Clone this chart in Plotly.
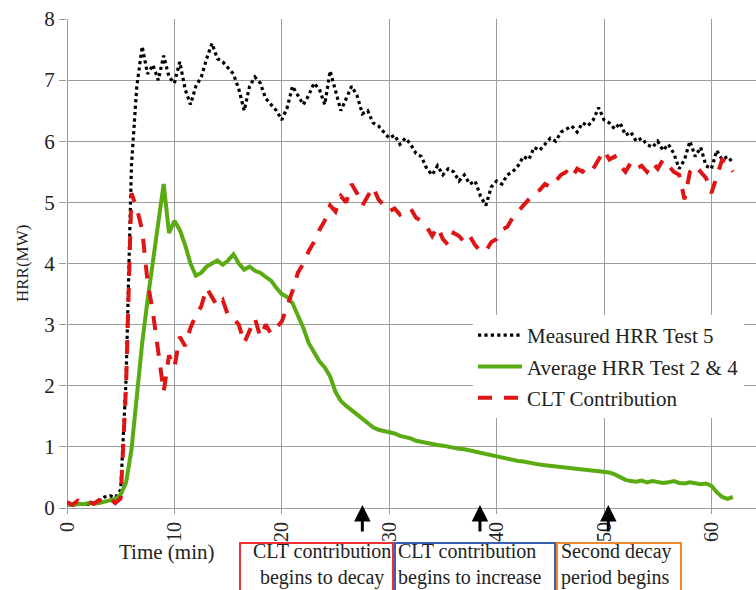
import plotly.graph_objects as go

time_min = [i * 0.5 for i in range(125)]

measured_hrr_test5 = [
    0.05, 0.06, 0.05, 0.07, 0.06, 0.08, 0.12, 0.18, 0.20, 0.17,
    0.30, 2.10, 5.60, 6.90, 7.55, 7.10, 7.25, 7.00, 7.40, 7.05,
    6.95, 7.30, 6.85, 6.60, 6.90, 7.05, 7.35, 7.60, 7.35, 7.30,
    7.20, 7.10, 6.85, 6.50, 6.90, 7.05, 6.95, 6.70, 6.60, 6.50,
    6.35, 6.55, 6.90, 6.75, 6.60, 6.75, 6.95, 6.85, 6.60, 7.15,
    6.80, 6.50, 6.70, 6.90, 6.75, 6.45, 6.50, 6.30, 6.25, 6.15,
    6.05, 6.10, 5.95, 6.05, 5.95, 5.80, 5.75, 5.55, 5.45, 5.60,
    5.45, 5.55, 5.50, 5.35, 5.45, 5.30, 5.35, 5.10, 4.95, 5.25,
    5.35, 5.30, 5.45, 5.50, 5.60, 5.75, 5.70, 5.90, 5.85, 5.95,
    6.05, 6.00, 6.15, 6.20, 6.25, 6.15, 6.30, 6.25, 6.35, 6.55,
    6.35, 6.30, 6.20, 6.30, 6.10, 6.15, 6.00, 6.05, 5.95, 5.90,
    6.00, 5.85, 5.95, 5.80, 5.55, 5.70, 6.00, 5.75, 5.90, 5.60,
    5.55, 5.85, 5.70, 5.75, 5.65,
]

average_hrr_test2_4 = [
    0.06, 0.05, 0.07, 0.06, 0.08, 0.07, 0.08, 0.10, 0.12, 0.15,
    0.22, 0.42, 0.95, 1.90, 2.70, 3.40, 4.00, 4.60, 5.30, 4.50,
    4.70, 4.55, 4.30, 4.00, 3.80, 3.85, 3.95, 4.00, 4.05, 3.98,
    4.05, 4.15, 4.00, 3.90, 3.95, 3.88, 3.85, 3.78, 3.72, 3.60,
    3.50, 3.45, 3.35, 3.15, 2.95, 2.70, 2.55, 2.40, 2.30, 2.15,
    1.90, 1.75, 1.67, 1.60, 1.53, 1.47, 1.38, 1.32, 1.28, 1.26,
    1.24, 1.22, 1.18, 1.16, 1.14, 1.10, 1.08, 1.06, 1.04, 1.03,
    1.02, 1.00, 0.98, 0.97, 0.96, 0.94, 0.92, 0.90, 0.88, 0.86,
    0.84, 0.82, 0.80, 0.79, 0.77, 0.76, 0.74, 0.72, 0.71, 0.70,
    0.69, 0.68, 0.67, 0.66, 0.65, 0.64, 0.63, 0.62, 0.61, 0.60,
    0.59, 0.58, 0.55, 0.50, 0.46, 0.44, 0.43, 0.45, 0.42, 0.44,
    0.43, 0.41, 0.42, 0.44, 0.41, 0.40, 0.42, 0.40, 0.39, 0.40,
    0.36, 0.26, 0.18, 0.15, 0.18,
]

clt_contribution = [
    0.10, 0.05, 0.12, 0.06, 0.10, 0.07, 0.13, 0.10, 0.15, 0.08,
    0.16, 2.00, 5.15, 4.90, 4.55, 3.70, 3.20, 2.50, 1.90, 2.50,
    2.30, 2.80, 2.65, 2.95, 3.15, 3.30, 3.60, 3.45, 3.30, 3.40,
    3.15, 3.10, 3.00, 2.70, 2.90, 3.10, 2.80, 3.00, 2.85, 2.95,
    3.05, 3.30, 3.55, 3.85, 4.00, 4.20, 4.35, 4.55, 4.70, 4.95,
    4.85, 5.10, 5.00, 5.30, 5.15, 4.95, 5.10, 5.25, 5.05, 4.95,
    4.85, 4.90, 4.80, 4.85, 4.90, 4.75, 4.70, 4.60, 4.45, 4.60,
    4.40, 4.30, 4.50, 4.45, 4.35, 4.45, 4.30, 4.20, 4.20, 4.35,
    4.40, 4.55, 4.60, 4.75, 4.85, 4.95, 5.05, 5.15, 5.20, 5.30,
    5.25, 5.35, 5.45, 5.50, 5.40, 5.55, 5.50, 5.60, 5.55, 5.70,
    5.85, 5.70, 5.75, 5.60, 5.50, 5.65, 5.55, 5.60, 5.50, 5.65,
    5.55, 5.70, 5.60, 5.50, 5.45, 5.05, 5.50, 5.60, 5.50, 5.40,
    5.15, 5.45, 5.70, 5.65, 5.50,
]

series_names = ["Measured HRR Test 5", "Average HRR Test 2 & 4", "CLT Contribution"]
x_ticks = [0, 10, 20, 30, 40, 50, 60]
y_ticks = [0, 1, 2, 3, 4, 5, 6, 7, 8]
arrow_times = [27.5, 38.45, 50.4]
box_texts = [
    "CLT contribution<br>begins to decay",
    "CLT contribution<br>begins to increase",
    "Second decay<br>period begins",
]
box_colors = ["#ee3030", "#3a5fb0", "#f08a30"]

W, H = 756, 590
L, R_, T, B = 67, 0, 19, 82
PW, PH = W - L - R_, H - T - B
FONT = "Liberation Serif, Times New Roman, serif"


def px_x(p):
    return (p - L) / PW


def px_y(p):
    return (H - B - p) / PH


fig = go.Figure()
fig.add_trace(go.Scatter(
    x=time_min, y=measured_hrr_test5, name=series_names[0], mode="lines",
    line=dict(color="#000000", width=3.2, dash="dot"), legendgroup="a",
))
fig.add_trace(go.Scatter(
    x=time_min, y=average_hrr_test2_4, name=series_names[1], mode="lines",
    line=dict(color="#5aab12", width=4), legendgroup="b",
))
fig.add_trace(go.Scatter(
    x=time_min, y=clt_contribution, name=series_names[2], mode="lines",
    line=dict(color="#dd1515", width=4, dash="14px,12px"), legendgroup="c",
))

grid = "#9c9c9c"
fig.update_xaxes(
    range=[0, PW / 10.74], tickvals=x_ticks, tickangle=-90,
    showgrid=True, gridcolor=grid, gridwidth=1.2,
    zeroline=True, zerolinecolor=grid, zerolinewidth=1.2,
    ticks="outside", ticklen=5, tickcolor=grid,
    tickfont=dict(family=FONT, size=20, color="#222"),
    showline=False,
)
fig.update_yaxes(
    range=[0, 8], tickvals=y_ticks,
    showgrid=True, gridcolor=grid, gridwidth=1.2,
    zeroline=True, zerolinecolor=grid, zerolinewidth=1.2,
    ticks="outside", ticklen=7, tickcolor=grid,
    tickfont=dict(family=FONT, size=21, color="#222"),
    showline=False,
)

annotations = [
    dict(text="Time (min)", xref="paper", yref="paper", x=px_x(166), y=px_y(552),
         xanchor="center", yanchor="middle",
         showarrow=False, font=dict(family=FONT, size=21, color="#222")),
    dict(text="HRR(MW)", xref="paper", yref="paper", x=px_x(22), y=px_y(264),
         xanchor="center", yanchor="middle",
         showarrow=False, textangle=-90, font=dict(family=FONT, size=17, color="#222")),
]
for t in arrow_times:
    annotations.append(dict(
        text="", x=t, y=px_y(505), xref="x", yref="paper",
        showarrow=True, ax=0, ay=28, arrowhead=2, arrowsize=1.1,
        arrowwidth=3, arrowcolor="#000",
    ))

box_px = [(240, 393), (395, 555), (557, 681)]
text_pos = [("center", 322), ("left", 397), ("left", 560)]
shapes = []
for (x0, x1), col, txt, (anch, tx) in zip(box_px, box_colors, box_texts, text_pos):
    shapes.append(dict(type="rect", xref="paper", yref="paper",
                       x0=px_x(x0), x1=px_x(x1), y0=px_y(600), y1=px_y(543),
                       line=dict(color=col, width=2), fillcolor="rgba(0,0,0,0)"))
    annotations.append(dict(text=txt, xref="paper", yref="paper",
                            x=px_x(tx), y=px_y(590), xanchor=anch, yanchor="bottom",
                            align=anch, showarrow=False, borderpad=0,
                            font=dict(family=FONT, size=20, color="#222")))

fig.update_layout(
    width=W, height=H,
    margin=dict(l=L, r=R_, t=T, b=B),
    plot_bgcolor="white", paper_bgcolor="white",
    showlegend=True,
    legend=dict(
        x=px_x(473), y=px_y(315), xanchor="left", yanchor="top",
        bgcolor="white", borderwidth=0,
        font=dict(family=FONT, size=21, color="#222"),
        traceorder="grouped", tracegroupgap=1,
        itemwidth=44,
    ),
    annotations=annotations,
    shapes=shapes,
)

fig.write_html("out.html")
